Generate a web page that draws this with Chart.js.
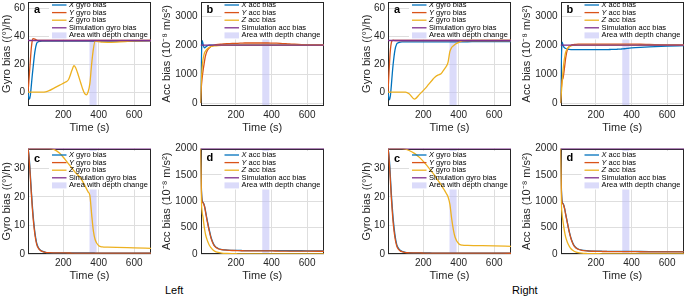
<!DOCTYPE html>
<html>
<head>
<meta charset="utf-8">
<title>Gyro and accelerometer bias estimation</title>
<script src="https://cdn.jsdelivr.net/npm/chart.js@4.4.1/dist/chart.umd.min.js"></script>
<style>
  html, body { margin: 0; padding: 0; background: #fff; }
  body { position: relative; width: 685px; height: 296px; overflow: hidden; }
  .panel { position: absolute; }
  .panel canvas { display: block; }
  .side { position: absolute; font: 11px "Liberation Sans", Arial, sans-serif; color: #000; line-height: 1; }
</style>
</head>
<body>
<div class="side" style="left:165px;top:285px">Left</div>
<div class="side" style="left:512px;top:285px">Right</div>
<script>
'use strict';

// shared time axis (s) for every estimated series
var TIME = [1, 5, 10, 15, 20, 25, 30, 40, 50, 60,
            70, 80, 100, 120, 150, 180, 210, 230, 250, 260,
            270, 280, 290, 300, 310, 320, 330, 340, 350, 360,
            370, 380, 400, 420, 450, 500, 600, 695];
var TIME_TICKS = [200, 400, 600];
var DEPTH_CHANGE = [348, 388];
var SIM_GYRO = 37;
var SIM_ACC = 2000;

var GYRO_BIAS_TICKS = [0, 20, 40, 60];
var ACC_BIAS_TICKS = [0, 1000, 2000, 3000];
var GYRO_ERR_TICKS = [0, 10, 20, 30];
var ACC_ERR_TICKS = [0, 500, 1000, 1500, 2000];

// ---- Left ----
var L_A_X = [0, -4, -5, -1.5, 5, 12, 18, 29, 35, 36.2,
             36.4, 36.5, 36.5, 36.5, 36.5, 36.5, 36.5, 36.5, 36.5, 36.5,
             36.5, 36.5, 36.5, 36.5, 36.5, 36.5, 36.5, 36.5, 36.5, 36.5,
             36.5, 36.5, 36.5, 36.5, 36.5, 36.5, 36.6, 36.7];
var L_A_Y = [0, 6, 15, 24, 32, 37, 38.3, 38, 37.3, 37,
             37, 37, 37, 37, 37, 37, 37, 37, 37, 37,
             37, 37, 37, 37, 37, 37, 37, 37, 37, 37,
             37, 37, 37, 37, 37, 37, 37, 37];
var L_A_Z = [0, 0, 0, 0, 0, 0, 0, 0, 0, 0,
             0, 0, 0.2, 1, 3, 5, 7, 9, 16, 19,
             17.5, 14, 10, 6, 2, -1, -2, 0, 6, 20,
             31, 36.5, 36.2, 35.8, 35.7, 35.9, 36.7, 37];

var L_B_X = [0, 1300, 2150, 2050, 1930, 1900, 1930, 1980, 2000, 2000,
             2000, 2000, 2000, 2000, 2000, 2000, 2000, 2000, 2000, 2000,
             2000, 2000, 2000, 2000, 2000, 2000, 2000, 2000, 2000, 2000,
             2000, 2000, 2000, 2000, 2000, 2000, 2000, 2000];
var L_B_Y = [0, 500, 850, 1100, 1300, 1500, 1650, 1820, 1900, 1950,
             1980, 2000, 2020, 2030, 2045, 2055, 2060, 2065, 2070, 2070,
             2070, 2070, 2070, 2070, 2070, 2070, 2070, 2070, 2070, 2070,
             2070, 2070, 2068, 2065, 2060, 2040, 2005, 2000];
var L_B_Z = [0, 700, 1200, 1500, 1650, 1750, 1800, 1870, 1920, 1950,
             1965, 1975, 1985, 1990, 1993, 1995, 1996, 1997, 1998, 1998,
             1998, 1998, 1998, 1998, 1998, 1998, 1998, 1998, 1998, 1998,
             1998, 1998, 1998, 1998, 1998, 1998, 1998, 1998];

var L_C_X = [37, 35.5, 32, 27, 22, 17.5, 13.5, 7.5, 3.8, 2.2,
             1.4, 1.0, 0.6, 0.5, 0.42, 0.4, 0.38, 0.37, 0.36, 0.36,
             0.35, 0.35, 0.35, 0.35, 0.35, 0.35, 0.35, 0.35, 0.35, 0.35,
             0.35, 0.34, 0.34, 0.33, 0.33, 0.32, 0.3, 0.3];
var L_C_Y = [37, 35, 31, 26, 21, 16.5, 12.5, 6.8, 3.4, 2,
             1.3, 0.9, 0.55, 0.45, 0.4, 0.38, 0.36, 0.35, 0.34, 0.34,
             0.33, 0.33, 0.33, 0.33, 0.33, 0.33, 0.33, 0.33, 0.33, 0.33,
             0.33, 0.32, 0.32, 0.31, 0.31, 0.3, 0.29, 0.28];
var L_C_Z = [37, 37, 37, 37, 37, 37, 37, 37, 37, 37,
             37, 37, 37, 37, 36.6, 35.3, 33.2, 31.6, 30.0, 29.2,
             28.5, 27.8, 27.2, 26.5, 25.4, 24.2, 23, 21.8, 20.6, 14,
             8, 5, 2.9, 2.5, 2.4, 2.3, 2.15, 2.0];

var L_D_X = [2000, 1350, 1020, 980, 950, 890, 800, 620, 460, 320,
             225, 160, 105, 85, 75, 70, 67, 66, 65, 65,
             65, 65, 65, 65, 65, 65, 65, 65, 65, 65,
             64, 64, 64, 63, 63, 62, 61, 60];
var L_D_Y = [2000, 1300, 1000, 970, 940, 880, 780, 600, 440, 300,
             210, 150, 100, 82, 72, 66, 63, 62, 61, 61,
             60, 60, 60, 60, 60, 60, 60, 60, 60, 60,
             59, 59, 58, 57, 56, 55, 53, 52];
var L_D_Z = [2000, 1100, 800, 700, 560, 450, 360, 250, 170, 120,
             80, 55, 30, 18, 10, 6, 4, 3, 3, 3,
             2.5, 2.5, 2.5, 2.5, 2.5, 2.5, 2.5, 2.5, 2.5, 2.5,
             2, 2, 2, 2, 2, 2, 1.5, 1.5];

// ---- Right ----
var R_A_X = [0, -4, -5.5, -2, 5, 13, 20, 30, 34.5, 35.5,
             35.8, 36, 36, 36, 36, 36, 36, 36, 36, 36,
             36, 36, 36, 36, 36, 36, 36, 36, 36, 36,
             36, 36, 36.1, 36.1, 36.1, 36.2, 36.2, 36.2];
var R_A_Y = [0, 10, 22, 31, 35.5, 37, 37.2, 37, 37, 37,
             37, 37, 37, 37, 37, 37, 37, 37, 37, 37,
             37, 37, 37, 37, 37, 37, 37, 37, 37, 37,
             37, 37, 37, 37, 37, 37, 37, 37];
var R_A_Z = [0, 0, 0, 0, 0, 0, 0, 0, 0, 0,
             0, 0, 0, -1.2, -5, -1.5, 2.5, 5.5, 8.5, 10,
             11.2, 12, 12.5, 13.2, 14.8, 16.6, 18.5, 21.5, 29, 32,
             33.2, 34.3, 35.7, 36.7, 37, 37, 37, 37];

var R_B_X = [0, 1300, 2100, 2000, 1930, 1900, 1880, 1860, 1850, 1845,
             1845, 1845, 1845, 1845, 1845, 1845, 1845, 1845, 1845, 1845,
             1845, 1847, 1848, 1850, 1852, 1855, 1858, 1862, 1866, 1872,
             1880, 1888, 1900, 1910, 1922, 1938, 1962, 1980];
var R_B_Y = [0, 450, 780, 850, 1050, 1300, 1550, 1850, 1950, 1990,
             2010, 2020, 2030, 2035, 2035, 2035, 2035, 2035, 2035, 2035,
             2035, 2035, 2035, 2035, 2035, 2035, 2035, 2035, 2035, 2035,
             2035, 2035, 2033, 2030, 2028, 2020, 2005, 2000];
var R_B_Z = [0, 300, 700, 1100, 1400, 1600, 1750, 1880, 1940, 1970,
             1985, 1990, 1995, 1997, 1998, 1998, 1998, 1998, 1998, 1998,
             1998, 1998, 1998, 1998, 1998, 1998, 1998, 1998, 1998, 1998,
             1998, 1998, 1998, 1998, 1998, 1998, 1998, 1998];

var R_C_X = [37, 35.5, 32, 26.5, 21, 16.5, 12.5, 6.8, 3.4, 2,
             1.3, 0.9, 0.55, 0.45, 0.4, 0.38, 0.36, 0.35, 0.34, 0.34,
             0.33, 0.33, 0.33, 0.33, 0.33, 0.33, 0.33, 0.33, 0.33, 0.33,
             0.33, 0.32, 0.32, 0.31, 0.31, 0.3, 0.29, 0.28];
var R_C_Y = [37, 35, 30.5, 25, 19.5, 15, 11, 5.8, 2.9, 1.7,
             1.1, 0.8, 0.5, 0.42, 0.38, 0.36, 0.34, 0.33, 0.32, 0.32,
             0.31, 0.31, 0.31, 0.31, 0.31, 0.31, 0.31, 0.31, 0.31, 0.31,
             0.31, 0.3, 0.3, 0.3, 0.29, 0.29, 0.28, 0.27];
var R_C_Z = [37, 37, 37, 37, 37, 37, 37, 37, 37, 37,
             37, 37, 36.8, 36.3, 35.3, 33.8, 31.8, 30.3, 28.7, 27.9,
             27.0, 26.1, 25.2, 24.3, 23.3, 22.3, 21.2, 20, 17.5, 12.5,
             8.5, 5.8, 3.6, 3.1, 3.0, 2.95, 2.85, 2.7];

var R_D_X = [2000, 1350, 1000, 960, 920, 850, 760, 590, 430, 300,
             210, 150, 95, 75, 62, 56, 53, 52, 51, 51,
             50, 50, 50, 50, 50, 50, 50, 50, 50, 50,
             49, 49, 48, 48, 47, 46, 45, 44];
var R_D_Y = [2000, 1300, 980, 950, 910, 840, 750, 580, 420, 290,
             200, 140, 90, 70, 58, 52, 49, 48, 47, 47,
             46, 46, 46, 46, 46, 46, 46, 46, 46, 46,
             45, 45, 44, 44, 43, 42, 41, 40];
var R_D_Z = [2000, 1050, 750, 620, 500, 400, 320, 220, 150, 100,
             70, 48, 25, 15, 9, 6, 5, 4, 4, 4,
             4, 4, 4, 4, 4, 4, 4, 4, 4, 4,
             4, 4, 4, 4, 4, 4, 4, 4];

var FONT = '"Liberation Sans", Arial, Helvetica, sans-serif';
var LEG_FONT = '7.5px ' + FONT;
var ROW = 7.6;
var PAD_T = 6, PAD_R = 6, X_AXIS_H = 27.5;
var COLORS = {
    x: '#0072BD', y: '#D95319', z: '#EDB120', sim: '#7E2F8E',
    band: 'rgba(190,190,245,0.55)', grid: '#dedede', ink: '#262626'
};

// plot boxes of the left group; the right group is the same shifted by dx
var GEOM = {
    a: {left: 28, top: 1.5, w: 123, h: 104.5, yW: 27, legTop: 3.5, letterY: 8.5},
    b: {left: 200.5, top: 1.5, w: 123.5, h: 104.5, yW: 39, legTop: 3.5, letterY: 8.5},
    c: {left: 28, top: 148.5, w: 123, h: 105.5, yW: 27, legTop: 6.5, letterY: 10},
    d: {left: 200.5, top: 148.5, w: 123.5, h: 105.5, yW: 39, legTop: 6.5, letterY: 9}
};

var KINDS = {
    a: {min: -10, max: 65, ticks: GYRO_BIAS_TICKS, sim: SIM_GYRO, title: 'Gyro bias ((°)/h)', word: 'gyro'},
    b: {min: -100, max: 3500, ticks: ACC_BIAS_TICKS, sim: SIM_ACC, title: 'Acc bias (10⁻⁸ m/s²)', word: 'acc'},
    c: {min: 0, max: 37, ticks: GYRO_ERR_TICKS, sim: SIM_GYRO, title: 'Gyro bias ((°)/h)', word: 'gyro'},
    d: {min: 0, max: 2000, ticks: ACC_ERR_TICKS, sim: SIM_ACC, title: 'Acc bias (10⁻⁸ m/s²)', word: 'acc'}
};

var SIDES = [
    {dx: 0, series: {
        a: {X: L_A_X, Y: L_A_Y, Z: L_A_Z}, b: {X: L_B_X, Y: L_B_Y, Z: L_B_Z},
        c: {X: L_C_X, Y: L_C_Y, Z: L_C_Z}, d: {X: L_D_X, Y: L_D_Y, Z: L_D_Z}}},
    {dx: 360, series: {
        a: {X: R_A_X, Y: R_A_Y, Z: R_A_Z}, b: {X: R_B_X, Y: R_B_Y, Z: R_B_Z},
        c: {X: R_C_X, Y: R_C_Y, Z: R_C_Z}, d: {X: R_D_X, Y: R_D_Y, Z: R_D_Z}}}
];

Chart.defaults.font.family = FONT;
Chart.defaults.color = COLORS.ink;

function legendEntries(word) {
    return [
        {italic: 'X', text: ' ' + word + ' bias', color: COLORS.x},
        {italic: 'Y', text: ' ' + word + ' bias', color: COLORS.y},
        {italic: 'Z', text: ' ' + word + ' bias', color: COLORS.z},
        {text: 'Simulation ' + word + ' bias', color: COLORS.sim},
        {text: 'Area with depth change', area: true}
    ];
}

function entryWidth(ctx, e) {
    var w = 0;
    if (e.italic) {
        ctx.font = 'italic ' + LEG_FONT;
        w += ctx.measureText(e.italic).width;
    }
    ctx.font = LEG_FONT;
    return w + ctx.measureText(e.text).width;
}

// band, legend box, axes box, legend and panel letter
function decor(letter, g, entries) {
    return {
        id: 'decor',
        beforeDatasetsDraw: function (chart) {
            var ctx = chart.ctx, a = chart.chartArea, xs = chart.scales.x;
            var x1 = xs.getPixelForValue(DEPTH_CHANGE[0]);
            var x2 = xs.getPixelForValue(DEPTH_CHANGE[1]);
            ctx.save();
            ctx.beginPath();
            ctx.rect(a.left, a.top, a.right - a.left, a.bottom - a.top);
            ctx.clip();
            ctx.fillStyle = COLORS.band;
            ctx.fillRect(x1, a.top, x2 - x1, a.bottom - a.top);
            var w = 0;
            entries.forEach(function (e) { w = Math.max(w, entryWidth(ctx, e)); });
            ctx.fillStyle = '#fff';
            ctx.fillRect(a.left + 21, a.top + g.legTop - 4, 20 + w + 3, entries.length * ROW + 0.5);
            ctx.restore();

            ctx.save();
            ctx.strokeStyle = COLORS.ink;
            ctx.lineWidth = 1;
            var l = Math.round(a.left), t = Math.round(a.top);
            var r = Math.round(a.right), b = Math.round(a.bottom);
            ctx.strokeRect(l + 0.5, t + 0.5, r - l - 1, b - t - 1);
            ctx.restore();
        },
        afterDatasetsDraw: function (chart) {
            var ctx = chart.ctx, a = chart.chartArea;
            ctx.save();
            ctx.textBaseline = 'middle';
            ctx.textAlign = 'left';
            entries.forEach(function (e, i) {
                var y = a.top + g.legTop + i * ROW;
                var x0 = a.left + 24, x1 = a.left + 38.5;
                if (e.area) {
                    ctx.fillStyle = COLORS.band;
                    ctx.fillRect(x0, y - 3, x1 - x0, 6);
                } else {
                    ctx.strokeStyle = e.color;
                    ctx.lineWidth = 1.3;
                    ctx.beginPath();
                    ctx.moveTo(x0, y);
                    ctx.lineTo(x1, y);
                    ctx.stroke();
                }
                var tx = a.left + 41;
                ctx.fillStyle = '#000';
                if (e.italic) {
                    ctx.font = 'italic ' + LEG_FONT;
                    ctx.fillText(e.italic, tx, y);
                    tx += ctx.measureText(e.italic).width;
                }
                ctx.font = LEG_FONT;
                ctx.fillText(e.text, tx, y);
            });
            ctx.font = 'bold 11px ' + FONT;
            ctx.fillStyle = '#000';
            ctx.fillText(letter, a.left + 6, a.top + g.letterY);
            ctx.restore();
        }
    };
}

function line(label, color, values, order) {
    if (values.length !== TIME.length) {
        throw new Error(label + ' has ' + values.length + ' values, expected ' + TIME.length);
    }
    return {
        label: label,
        data: TIME.map(function (t, i) { return {x: t, y: values[i]}; }),
        borderColor: color,
        backgroundColor: color,
        borderWidth: 1.3,
        pointRadius: 0,
        fill: false,
        cubicInterpolationMode: 'monotone',
        order: order
    };
}

function addPanel(side, key) {
    var g = GEOM[key], k = KINDS[key], s = side.series[key];
    var plotL = g.left + side.dx, plotT = g.top;
    var boxL = plotL - g.yW, boxT = plotT - PAD_T;
    var cl = Math.floor(boxL), ct = Math.floor(boxT);
    var W = Math.ceil(plotL - cl + g.w + PAD_R);
    var H = Math.ceil(plotT - ct + g.h + X_AXIS_H);

    var holder = document.createElement('div');
    holder.className = 'panel';
    holder.style.left = cl + 'px';
    holder.style.top = ct + 'px';
    var canvas = document.createElement('canvas');
    canvas.width = W;
    canvas.height = H;
    canvas.style.width = W + 'px';
    canvas.style.height = H + 'px';
    holder.appendChild(canvas);
    document.body.appendChild(holder);

    var tickFont = {size: 10, family: FONT};
    var titleFont = {size: 11, family: FONT, lineHeight: 1};
    var first = TIME[0], last = TIME[TIME.length - 1];

    new Chart(canvas, {
        type: 'line',
        data: {
            datasets: [
                line('X', COLORS.x, s.X, 3),
                line('Y', COLORS.y, s.Y, 2),
                line('Z', COLORS.z, s.Z, 1),
                {
                    label: 'Simulation',
                    data: [{x: first, y: k.sim}, {x: last, y: k.sim}],
                    borderColor: COLORS.sim,
                    borderWidth: 1.3,
                    pointRadius: 0,
                    fill: false,
                    order: 0
                }
            ]
        },
        options: {
            responsive: false,
            devicePixelRatio: 1,
            animation: false,
            events: [],
            layout: {
                padding: {
                    left: boxL - cl,
                    top: plotT - ct,
                    right: W - (plotL - cl + g.w),
                    bottom: H - (plotT - ct + g.h + X_AXIS_H)
                }
            },
            plugins: {legend: {display: false}, tooltip: {enabled: false}},
            scales: {
                x: {
                    type: 'linear',
                    min: first,
                    max: last,
                    afterBuildTicks: function (sc) {
                        sc.ticks = TIME_TICKS.map(function (v) { return {value: v}; });
                    },
                    afterFit: function (sc) {
                        sc.height = X_AXIS_H;
                        sc.paddingLeft = 0; sc.paddingRight = 0;
                        sc.paddingTop = 0; sc.paddingBottom = 0;
                    },
                    grid: {color: COLORS.grid, drawTicks: false, lineWidth: 1},
                    border: {display: false},
                    ticks: {font: tickFont, color: COLORS.ink, padding: 3, maxRotation: 0,
                            autoSkip: false, callback: function (v) { return String(v); }},
                    title: {display: true, text: 'Time (s)', font: titleFont, color: COLORS.ink,
                            padding: 0}
                },
                y: {
                    type: 'linear',
                    min: k.min,
                    max: k.max,
                    afterBuildTicks: function (sc) {
                        sc.ticks = k.ticks.map(function (v) { return {value: v}; });
                    },
                    afterFit: function (sc) {
                        sc.width = g.yW;
                        sc.paddingLeft = 0; sc.paddingRight = 0;
                        sc.paddingTop = 0; sc.paddingBottom = 0;
                    },
                    grid: {color: COLORS.grid, drawTicks: false, lineWidth: 1},
                    border: {display: false},
                    ticks: {font: tickFont, color: COLORS.ink, padding: 3,
                            callback: function (v) { return String(v); }},
                    title: {display: true, text: k.title, font: titleFont, color: COLORS.ink,
                            padding: 0}
                }
            }
        },
        plugins: [decor(key, g, legendEntries(k.word))]
    });
}

SIDES.forEach(function (side) {
    ['a', 'b', 'c', 'd'].forEach(function (key) { addPanel(side, key); });
});
</script>
</body>
</html>
